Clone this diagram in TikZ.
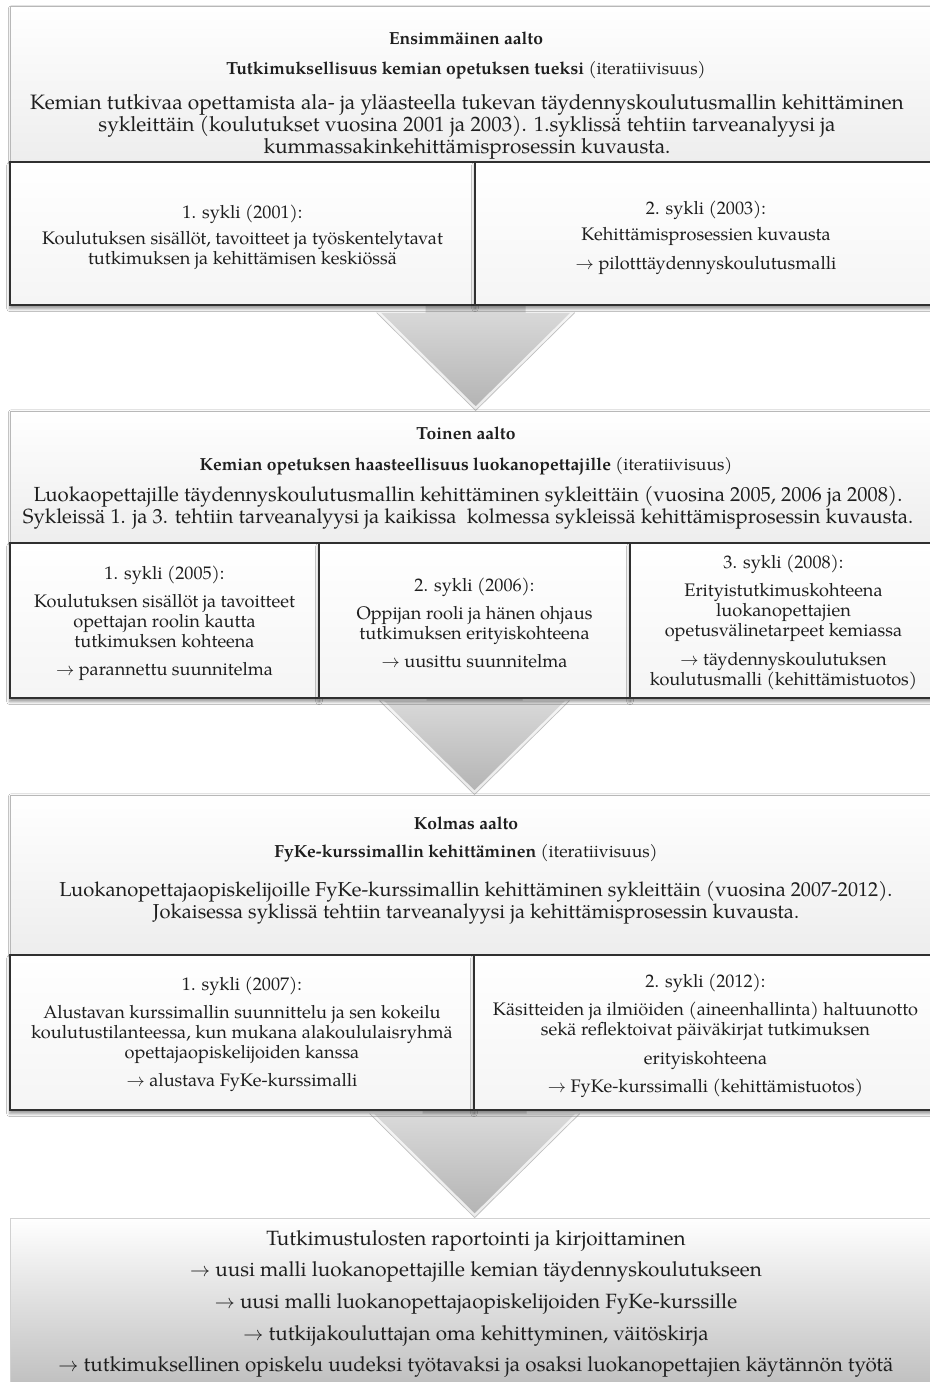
\documentclass[tikz,border=0pt]{standalone}
\usepackage{fontspec}
\setmainfont{texgyrepagella}[Extension=.otf, UprightFont=*-regular, BoldFont=*-bold, ItalicFont=*-italic, BoldItalicFont=*-bolditalic]
\usetikzlibrary{calc,fit,shadows.blur}
\pgfdeclarelayer{background}
\pgfsetlayers{background,main}

\definecolor{ink}{HTML}{1E1E1E}
\definecolor{cellline}{HTML}{303030}
\definecolor{headline}{HTML}{B8B8B8}

\newcommand\titletext{\fontsize{10.5}{12.6}\selectfont}
\newcommand\celltext{\fontsize{10.9}{12}\selectfont}

% big grey block arrow: #1 start (row bottom), #2 tip, #3 head offset, #4 stem half width, #5 head half width
\newcommand\blockarrow[5]{%
  \shade[top color=black!6, bottom color=black!30]
    ($(#1)+(-#4,-55)$) -- ($(#1)+(-#4,#3)$) -- ($(#1)+(-#5,#3)$) -- (#2)
    -- ($(#1)+(#5,#3)$) -- ($(#1)+(#4,#3)$) -- ($(#1)+(#4,-55)$) -- cycle;
  \begin{scope}
    \clip ($(#1)+(-#4,-55)$) -- ($(#1)+(-#4,#3)$) -- ($(#1)+(-#5,#3)$) -- (#2)
      -- ($(#1)+(#5,#3)$) -- ($(#1)+(#4,#3)$) -- ($(#1)+(#4,-55)$) -- cycle;
    \draw[white, opacity=0.75, line width=3.5pt]
      ($(#1)+(-#5,#3)$) -- (#2) -- ($(#1)+(#5,#3)$);
  \end{scope}
  \draw[black!25, line width=0.4pt]
    ($(#1)+(-#5,#3)$) -- (#2) -- ($(#1)+(#5,#3)$);
}

\tikzset{
  x=0.6pt, y=-0.6pt,
  headbox/.style={rectangle, inner sep=0pt, draw=headline, line width=0.6pt,
    top color=white, bottom color=black!7,
    blur shadow={shadow xshift=0.6pt, shadow yshift=-0.8pt, shadow blur radius=1.5pt, shadow opacity=25}},
  cellbox/.style={rectangle, inner sep=0pt, draw=cellline, line width=0.8pt,
    top color=white, bottom color=black!4,
    blur shadow={shadow xshift=0pt, shadow yshift=-2pt, shadow blur radius=2pt, shadow opacity=45}},
  celltxt/.style={inner sep=0pt, align=center, text=ink, font=\celltext},
  finalbox/.style={rectangle, inner sep=0pt, draw=black!18, line width=0.5pt,
    top color=white, bottom color=black!27},
  txt/.style={inner sep=0pt, align=center, text=ink},
}

\begin{document}
\begin{tikzpicture}
\useasboundingbox (0,0) rectangle (930,1382);

% ---- first wave ----
\node[headbox, fit={(10,7) (937,162)}] (h1) {};
\node[txt, font=\titletext\bfseries] (t1a) at (466,38) {Ensimmäinen aalto};
\node[txt, font=\titletext] (t1b) at (466,70) {\textbf{Tutkimuksellisuus kemian opetuksen tueksi} (iteratiivisuus)};
\node[txt, font=\fontsize{12.5}{13.2}\selectfont] (t1c) at (467,127) {Kemian tutkivaa opettamista ala- ja yläasteella tukevan täydennyskoulutusmallin kehittäminen\\
  sykleittäin (koulutukset vuosina 2001 ja 2003). 1.syklissä tehtiin tarveanalyysi ja\\
  kummassakinkehittämisprosessin kuvausta.};

\node[cellbox, fit={(10,162) (475,305)}] (c11) {};
\node[celltxt] (c11t) at ($(c11.center)+(0,4)$) {1. sykli (2001):\\[3.6pt]
  Koulutuksen sisällöt, tavoitteet ja työskentelytavat\\ tutkimuksen ja kehittämisen keskiössä};
\node[cellbox, fit={(475,162) (937,305)}] (c12) {};
\node[celltxt] (c12t) at ($(c12.center)+(0,4)$) {2. sykli (2003):\\[3.6pt]
  Kehittämisprosessien kuvausta\\[5.4pt] $\rightarrow$ pilotttäydennyskoulutusmalli};

% ---- second wave ----
\node[headbox, fit={(10,411) (937,543)}] (h2) {};
\node[txt, font=\titletext\bfseries] (t2a) at (466,433) {Toinen aalto};
\node[txt, font=\titletext] (t2b) at (466,466) {\textbf{Kemian opetuksen haasteellisuus luokanopettajille} (iteratiivisuus)};
\node[txt, font=\fontsize{12.25}{13.5}\selectfont] (t2c) at (468,508) {Luokaopettajille täydennyskoulutusmallin kehittäminen sykleittäin (vuosina 2005, 2006 ja 2008).\\
  Sykleissä 1. ja 3. tehtiin tarveanalyysi ja kaikissa\ \ kolmessa sykleissä kehittämisprosessin kuvausta.};

\node[cellbox, fit={(10,543) (319,698)}] (c21) {};
\node[celltxt] (c21t) at ($(c21.center)+(0,2.5)$) {1. sykli (2005):\\[4.8pt]
  Koulutuksen sisällöt ja tavoitteet\\ opettajan roolin kautta\\ tutkimuksen kohteena\\[4.8pt]
  $\rightarrow$ parannettu suunnitelma};
\node[cellbox, fit={(319,543) (630,698)}] (c22) {};
\node[celltxt] (c22t) at ($(c22.center)+(0,2.5)$) {2. sykli (2006):\\[4.8pt]
  Oppijan rooli ja hänen ohjaus\\ tutkimuksen erityiskohteena\\[4.8pt]
  $\rightarrow$ uusittu suunnitelma};
\node[cellbox, fit={(630,543) (937,698)}] (c23) {};
\node[celltxt] (c23t) at ($(c23.center)+(0,1.5)$) {3. sykli (2008):\\[4.8pt]
  Erityistutkimuskohteena\\ luokanopettajien\\ opetusvälinetarpeet kemiassa\\[5.4pt]
  $\rightarrow$ täydennyskoulutuksen\\ koulutusmalli (kehittämistuotos)};

% ---- third wave ----
\node[headbox, fit={(10,795) (937,955)}] (h3) {};
\node[txt, font=\titletext\bfseries] (t3a) at (466,823) {Kolmas aalto};
\node[txt, font=\titletext] (t3b) at (466,853) {\textbf{FyKe-kurssimallin kehittäminen} (iteratiivisuus)};
\node[txt, font=\fontsize{12.1}{13.2}\selectfont] (t3c) at (476,903) {Luokanopettajaopiskelijoille FyKe-kurssimallin kehittäminen sykleittäin (vuosina 2007-2012).\\
  Jokaisessa syklissä tehtiin tarveanalyysi ja kehittämisprosessin kuvausta.};

\node[cellbox, fit={(10,955) (474,1110)}] (c31) {};
\node[celltxt] (c31t) at ($(c31.center)+(0,2)$) {1. sykli (2007):\\[4.8pt]
  Alustavan kurssimallin suunnittelu ja sen kokeilu\\ koulutustilanteessa, kun mukana alakoululaisryhmä\\ opettajaopiskelijoiden kanssa\\[4.8pt]
  $\rightarrow$ alustava FyKe-kurssimalli};
\node[cellbox, fit={(474,955) (937,1110)}] (c32) {};
\node[celltxt] (c32t) at ($(c32.center)+(0,3)$) {2. sykli (2012):\\[4.8pt]
  Käsitteiden ja ilmiöiden (aineenhallinta) haltuunotto\\ sekä reflektoivat päiväkirjat tutkimuksen\\[5.4pt]
  erityiskohteena\\[4.8pt]
  $\rightarrow$ FyKe-kurssimalli (kehittämistuotos)};

% ---- results ----
\node[finalbox, fit={(10,1218) (945,1400)}] (fin) {};
\node[txt, font=\fontsize{12.4}{19}\selectfont] (fint) at (476,1304) {Tutkimustulosten raportointi ja kirjoittaminen\\
  $\rightarrow$ uusi malli luokanopettajille kemian täydennyskoulutukseen\\
  $\rightarrow$ uusi malli luokanopettajaopiskelijoiden FyKe-kurssille\\
  $\rightarrow$ tutkijakouluttajan oma kehittyminen, väitöskirja\\
  $\rightarrow$ tutkimuksellinen opiskelu uudeksi työtavaksi ja osaksi luokanopettajien käytännön työtä};

% ---- block arrows between the waves ----
\begin{pgfonlayer}{background}
  \fill[white] (0,0) rectangle (930,1382);
  \coordinate (a1s) at (c11.south east);
  \coordinate (a1t) at (c11.south east |- h2.north);
  \blockarrow{a1s}{a1t}{7}{50}{99}
  \coordinate (a2s) at (c22.south);
  \coordinate (a2t) at (c22.south |- h3.north);
  \blockarrow{a2s}{a2t}{2}{48}{95}
  \coordinate (a3s) at (c31.south east);
  \coordinate (a3t) at (c31.south east |- fin.north);
  \blockarrow{a3s}{a3t}{3}{52}{105}
\end{pgfonlayer}
\end{tikzpicture}
\end{document}
